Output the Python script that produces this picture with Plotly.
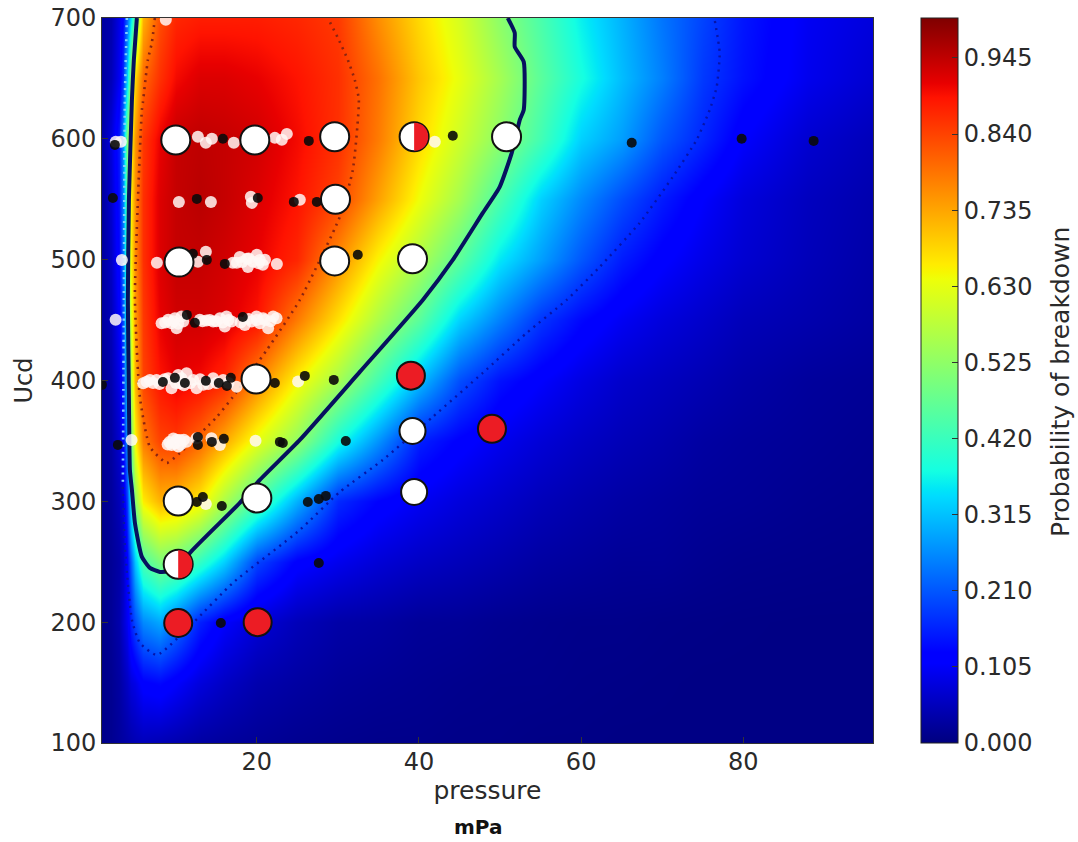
import plotly.graph_objects as go

# ---------- probability field ----------
pressure = [1, 2, 3, 3.5, 4, 4.5, 5, 6, 8, 10, 13, 16, 20, 25, 30, 35, 40, 45, 50, 55, 60, 65, 70, 75, 80, 88, 96]
ucd = [100, 150, 200, 250, 300, 350, 400, 450, 500, 550, 600, 650, 700]
row_100 = [.01, .015, .025, .03, .035, .04, .045, .05, .045, .04, .03, .025, .02, .015, .012, .01, .01, .008, .008, .006, .006, .005, .005, .005, .005, .005, .005]
row_150 = [.01, .015, .03, .045, .06, .08, .09, .12, .13, .11, .08, .06, .04, .03, .022, .018, .015, .012, .01, .01, .008, .007, .006, .005, .005, .005, .005]
row_200 = [.01, .02, .04, .07, .1, .16, .2, .26, .29, .24, .155, .11, .075, .05, .035, .03, .022, .02, .015, .012, .01, .01, .008, .007, .006, .005, .005]
row_250 = [.01, .02, .035, .06, .12, .22, .32, .44, .5, .48, .41, .33, .19, .12, .095, .075, .06, .05, .04, .03, .025, .02, .02, .015, .012, .01, .008]
row_300 = [.015, .025, .05, .08, .18, .38, .52, .66, .72, .71, .66, .56, .44, .3, .165, .125, .1, .08, .065, .05, .04, .032, .027, .022, .02, .015, .012]
row_350 = [.02, .03, .07, .12, .28, .5, .65, .78, .84, .85, .8, .73, .63, .53, .38, .27, .155, .12, .095, .075, .06, .048, .04, .03, .025, .02, .015]
row_400 = [.02, .04, .09, .16, .35, .58, .72, .84, .89, .91, .9, .87, .77, .65, .55, .43, .31, .2, .14, .11, .085, .065, .055, .045, .035, .025, .02]
row_450 = [.03, .05, .11, .2, .42, .62, .74, .85, .91, .93, .93, .92, .89, .78, .67, .56, .46, .33, .25, .175, .13, .1, .08, .065, .05, .04, .03]
row_500 = [.03, .06, .13, .24, .47, .66, .76, .86, .92, .94, .94, .93, .91, .87, .76, .65, .56, .46, .35, .28, .21, .15, .115, .09, .07, .05, .035]
row_550 = [.03, .07, .14, .25, .48, .66, .76, .86, .92, .94, .95, .94, .92, .89, .84, .74, .64, .55, .44, .33, .26, .2, .15, .11, .08, .055, .04]
row_600 = [.04, .08, .15, .27, .5, .65, .75, .85, .91, .94, .945, .94, .93, .9, .86, .78, .68, .6, .52, .43, .33, .28, .21, .16, .11, .07, .05]
row_650 = [.03, .05, .1, .17, .33, .55, .68, .8, .86, .9, .92, .92, .91, .89, .86, .79, .7, .63, .55, .46, .38, .31, .25, .18, .14, .095, .07]
row_700 = [.03, .04, .09, .13, .22, .35, .48, .72, .83, .87, .88, .88, .88, .87, .85, .76, .68, .61, .52, .44, .36, .3, .24, .19, .145, .1, .08]
field = [row_100, row_150, row_200, row_250, row_300, row_350, row_400, row_450, row_500, row_550, row_600, row_650, row_700]
cbar_ticks = [0.0, 0.105, 0.21, 0.315, 0.42, 0.525, 0.63, 0.735, 0.84, 0.945]

# ---------- contour lines ----------
c50_x = [5.2, 4.83, 4.59, 4.22, 4.09, 4.22, 4.34, 4.59, 4.96, 5.82, 6.81, 8.04, 10.26, 11.74, 17.9, 20.37, 25.3, 32.7, 40.47, 44.17, 47.87, 49.96, 51.44, 52.43, 52.92, 52.92, 51.81, 51.81, 50.95]
c50_u = [700, 665.4, 632.3, 549.5, 466.7, 383.9, 326, 309.4, 282.1, 254, 244.9, 241.6, 243.2, 257.3, 298.7, 317.7, 350.8, 407.1, 466.7, 499.8, 538.7, 560.3, 588.4, 615.7, 624, 663.7, 676.2, 687.7, 700]
c85_x = [7.42, 7.05, 6.56, 5.94, 5.82, 4.96, 5.57, 6.81, 8.9, 10.5, 15.07, 17.04, 21.23, 25.3, 30.23, 31.84, 32.58, 32.08, 31.22, 29.99, 28.75]
c85_u = [700, 679.5, 665.4, 629.8, 624, 469.2, 386.4, 345, 331.8, 340, 369.9, 386.4, 425.3, 466.7, 535.4, 574.3, 632.3, 648.8, 665.4, 683.6, 700]
c10_left_x = [3.97, 3.72, 3.6, 3.47]
c10_left_u = [700, 632.3, 466.7, 311.9]
c10_x = [3.47, 3.72, 4.59, 5.57, 7.67, 12.11, 17.04, 25.3, 30.23, 35.54, 41.7, 47.87, 53.29, 58.22, 62.29, 67.23, 71.3, 74.25, 75.86, 76.72, 77.09, 76.47]
c10_u = [311.9, 262.3, 201.8, 182.8, 172.8, 199.3, 232.5, 276.3, 307.8, 334.3, 369.9, 406.3, 439.4, 466.7, 494, 530.5, 568.5, 599.2, 624, 643, 671.2, 698.5]

# ---------- small dark points ----------
dark_x = [15.81, 26.41, 2.49, 44.17, 66.24, 79.8, 88.68,
          2.24, 12.6, 20.12, 24.56, 27.4,
          13.83, 16.05, 12.11, 32.45,
          12.35, 18.27, 11.37,
          0.89, 8.41, 9.89, 11.12, 13.71, 15.31, 16.3, 16.79, 22.22, 25.92, 29.49,
          2.86, 12.73, 12.73, 14.45, 15.93, 22.84, 23.2, 30.97,
          13.34, 12.6, 15.68, 26.29, 27.64, 28.51,
          27.64, 15.56]
dark_u = [600, 598.3, 595, 602.5, 596.7, 600, 598.3,
          551, 550.3, 551, 547.8, 547.8,
          499.8, 496.5, 504.8, 504,
          447.7, 452.6, 454.3,
          396.4, 398.8, 402.2, 398, 399.7, 398, 395.5, 402.2, 398, 403.8, 400.5,
          346.7, 353.3, 346.7, 349.2, 351.7, 349.2, 348.3, 350,
          303.6, 299.5, 296.2, 299.5, 302, 304.5,
          249, 199.3]

# ---------- small pale points ----------
pale_x = [3.23, 2.6, 12.73, 13.71, 14.45, 17.16, 22.22, 23.08, 23.7, 41.95,
          10.38, 14.33, 19.26, 19.38, 25.3,
          3.35, 7.67, 12.73, 13.71, 17.04, 17.9, 18.89, 18.77, 20, 20.74, 20.37, 22.47, 17.53, 19.51, 18.2, 19, 20.2, 21,
          8.25, 9.06, 9.89, 10.71, 10.1, 9.48, 10.91, 12.97, 13.8, 14.61, 15.44, 16.26, 16.05, 16.88, 18.52, 19.35, 19.96, 20.78, 21.39, 22.01, 22.43, 20.37, 2.58,
          8.7, 9.7, 10.3, 13.3, 14.2, 15, 15.8, 16.5, 18, 19, 20, 21, 21.7,
          5.98, 6.81, 7.63, 9.06, 9.48, 10.3, 11.33, 12.15, 12.56, 10.51, 13.38, 14.61, 15.84, 17.5, 25.09, 10.71,
          6.4, 7.2, 8, 8.6, 10, 11, 11.8, 13, 14, 15, 16.5,
          9.89, 10.51, 9.48, 11.33, 10.3, 12.56, 14.41, 15.44, 19.84, 4.55,
          9.2, 9.7, 10.1, 10.6, 11, 9,
          13.71, 8.77]
pale_u = [597.5, 597.5, 601.7, 596.7, 600, 596.7, 600.8, 599.2, 604.1, 597.5,
          547.8, 547.8, 552, 547, 549.5,
          499.8, 497.4, 498.2, 506.5, 497.4, 502.3, 494, 500.7, 504, 495.7, 499.8, 496.5, 497.4, 498.2, 498, 501, 497, 500,
          447.4, 450.2, 451.6, 452.9, 443.3, 447.4, 448.8, 450.2, 449.6, 448.8, 451.6, 452.9, 444.6, 448.8, 446, 448.8, 452.9, 451.6, 443.3, 452.9, 451.6, 447.4, 450.2,
          448, 449, 447, 449, 450, 449, 448, 450, 448, 451, 450, 450, 449,
          397.8, 400.5, 400.5, 401.9, 393.6, 404.6, 406, 400.5, 393.6, 397.8, 396.4, 401.9, 400.5, 394.9, 399.1, 401.9,
          399, 398, 397, 401, 398, 396, 398, 401, 397, 398, 398,
          348.1, 350.8, 346.7, 349.4, 345.3, 352.2, 352.2, 346.7, 350.2, 350.8,
          349, 352, 351, 347, 351, 347,
          297.8, 698.5]

# ---------- large points ----------
white_x = [10, 19.75, 29.6, 29.7, 10.4, 29.6, 39.2, 50.8, 19.9, 10.3, 20]
white_u = [599, 599, 601.7, 550, 498, 499, 500.7, 601.7, 401.3, 300.3, 302.8]
white_small_x = [39.2, 39.4]
white_small_u = [358.3, 307.8]
red_x = [39, 49, 10.3, 20.1]
red_u = [404, 360, 199.3, 200]
half_x = [39.4, 10.3]
half_u = [601.7, 248]

FONT = "DejaVu Sans"
INK = "#2a2a2a"
jet = [
    [0.0, "rgb(0,0,127)"], [0.11, "rgb(0,0,255)"], [0.125, "rgb(0,0,255)"],
    [0.34, "rgb(0,219,255)"], [0.35, "rgb(0,230,247)"], [0.375, "rgb(20,255,226)"],
    [0.64, "rgb(238,255,8)"], [0.65, "rgb(247,246,0)"], [0.66, "rgb(255,236,0)"],
    [0.89, "rgb(255,19,0)"], [0.91, "rgb(232,0,0)"], [1.0, "rgb(127,0,0)"],
]

fig = go.Figure()
fig.add_trace(go.Heatmap(
    x=pressure, y=ucd, z=field, zmin=0, zmax=1, zsmooth="best", colorscale=jet,
    colorbar=dict(
        x=(921 - 102) / 771, xanchor="left", xpad=0, ypad=0, y=0.5, yanchor="middle",
        len=1, lenmode="fraction", thickness=37, thicknessmode="pixels",
        outlinecolor="#222", outlinewidth=1,
        tickvals=cbar_ticks, ticktext=[f"{v:.3f}" for v in cbar_ticks],
        ticks="inside", ticklen=6, tickcolor="#333",
        tickfont=dict(family=FONT, size=24, color=INK),
    ),
    hoverinfo="skip",
))
def line(x, u, color, width, dash="solid"):
    fig.add_trace(go.Scatter(x=x, y=u, mode="lines", hoverinfo="skip",
                             line=dict(color=color, width=width, dash=dash, shape="spline", smoothing=0.5)))

line(c85_x, c85_u, "#8a2410", 2.6, "2px,5px")
line(c10_left_x, c10_left_u, "#7fd0ff", 2.6, "2px,5px")
line(c10_x, c10_u, "#0614a8", 2.4, "2px,5px")
line(c50_x, c50_u, "#06125f", 4)

def points(x, u, size, color, edge=None, edge_w=0, opacity=1.0):
    fig.add_trace(go.Scatter(x=x, y=u, mode="markers", hoverinfo="skip",
                             marker=dict(size=size, color=color, opacity=opacity,
                                         line=dict(color=edge or color, width=edge_w))))

points(pale_x, pale_u, 12, "#fff8f6", opacity=0.85)
points(dark_x, dark_u, 10, "#0a0a0a", opacity=0.9)
points(white_x + half_x, white_u + half_u, 29, "#ffffff", "#111", 2)
points(white_small_x, white_small_u, 26, "#ffffff", "#111", 2)
points(red_x, red_u, 28, "#ec1c24", "#111", 2)

# right half of the split points, anchored to their data position, sized in pixels
half_shapes = [
    dict(type="path", xref="x", yref="y", xsizemode="pixel", ysizemode="pixel",
         xanchor=hx, yanchor=hu, path="M 0 -14 C 18.7 -14 18.7 14 0 14 Z",
         fillcolor="#ec1c24", line=dict(width=0), layer="above")
    for hx, hu in zip(half_x, half_u)
]

axis_common = dict(showgrid=False, zeroline=False, showline=True, mirror=True, linecolor="#333",
                   linewidth=1, ticks="inside", ticklen=6, tickcolor="#333",
                   tickfont=dict(family=FONT, size=24, color=INK))
fig.update_layout(
    width=1078, height=842, showlegend=False,
    paper_bgcolor="white", plot_bgcolor="white",
    margin=dict(l=102, r=205, t=18, b=99, autoexpand=False),
    xaxis=dict(range=[0.9, 96], tickvals=[20, 40, 60, 80], ticklabelstandoff=-3,
               title=dict(text="pressure", standoff=2, font=dict(family=FONT, size=25, color=INK)),
               **axis_common),
    yaxis=dict(range=[100, 700], tickvals=[100, 200, 300, 400, 500, 600, 700],
               title=dict(text="Ucd", standoff=10, font=dict(family=FONT, size=24, color=INK)),
               **axis_common),
    shapes=half_shapes,
    annotations=[
        dict(text="<b>mPa</b>", xref="paper", yref="paper", x=(478 - 102) / 771, y=-(827 - 743) / 725,
             xanchor="center", yanchor="middle", showarrow=False,
             font=dict(family=FONT, size=20, color="#111")),
        dict(text="Probability of breakdown", xref="paper", yref="paper", x=(1060 - 102) / 771,
             y=(743 - 382) / 725, xanchor="center", yanchor="middle", textangle=-90, showarrow=False,
             font=dict(family=FONT, size=25, color=INK)),
    ],
)
fig.write_html("out.html", config={"displayModeBar": False},
               post_script="document.body.style.margin='0';document.documentElement.style.overflow='hidden';")
